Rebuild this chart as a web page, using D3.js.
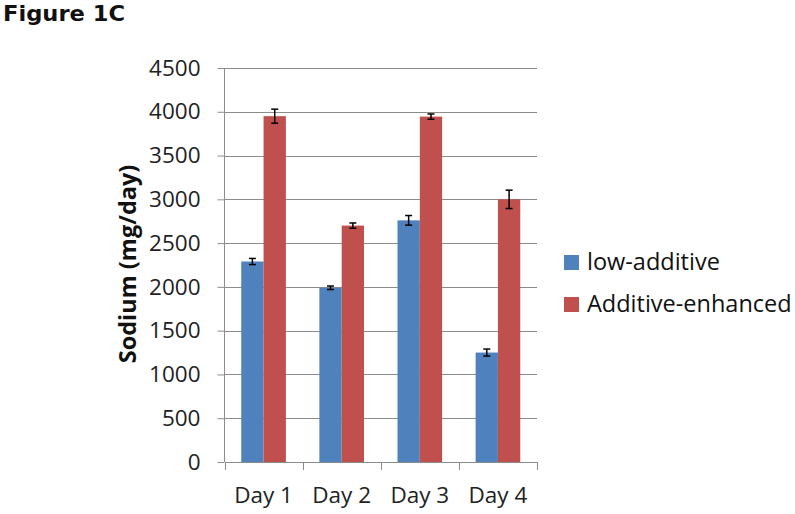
<!DOCTYPE html>
<html><head><meta charset="utf-8">
<script src="https://cdn.jsdelivr.net/npm/d3@7"></script>
<style>body{margin:0;background:#fff}svg{display:block}</style>
</head><body>
<svg id="c" width="795" height="514"></svg>
<script>
const categories = ["Day 1","Day 2","Day 3","Day 4"];
const seriesNames = ["low-additive","Additive-enhanced"];
const lowAdditive = [2290, 1990, 2760, 1250];
const lowAdditiveErr = [35, 20, 55, 40];
const additiveEnhanced = [3950, 2700, 3945, 3000];
const additiveEnhancedErr = [80, 30, 30, 105];
const yTicks = [0,500,1000,1500,2000,2500,3000,3500,4000,4500];
const colors = ["#4F81BD","#C0504D"];

const svg = d3.select("#c");
const m = {left:224.5, right:537, top:68, bottom:462};
const x = d3.scaleBand().domain(categories).range([m.left,m.right]).padding(0);
const y = d3.scaleLinear().domain([0,4500]).range([m.bottom,m.top]);
const grid = "#8c8c8c";
const font = "'Open Sans', sans-serif";

svg.append("text").attr("x",3).attr("y",21).text("Figure 1C")
  .attr("font-family","'DejaVu Sans', sans-serif").attr("font-weight","bold").attr("font-size",22).attr("fill","#111")
  .attr("textLength",122).attr("lengthAdjust","spacingAndGlyphs");

// gridlines
svg.append("g").selectAll("line").data(yTicks.filter(d=>d>0)).join("line")
  .attr("x1",m.left).attr("x2",m.right).attr("y1",d=>Math.round(y(d))+0.5).attr("y2",d=>Math.round(y(d))+0.5)
  .attr("stroke",grid).attr("stroke-width",1);

// y axis
const ya = svg.append("g").attr("transform",`translate(${m.left},0)`)
  .call(d3.axisLeft(y).tickValues(yTicks).tickSize(7).tickPadding(17).tickFormat(d3.format("d")));
ya.select(".domain").attr("stroke",grid).attr("d",`M-0,${m.top}V${m.bottom}`);
ya.selectAll(".tick line").attr("stroke",grid);
ya.selectAll("text").attr("font-family",font).attr("font-size",22.5).attr("fill","#222");

// bars
const inner = d3.scaleBand().domain([0,1]).range([0,x.bandwidth()]).paddingInner(0).paddingOuter(0.75);
const series = [lowAdditive, additiveEnhanced];
const errs = [lowAdditiveErr, additiveEnhancedErr];
series.forEach((vals,si)=>{
  const g = svg.append("g");
  g.selectAll("rect").data(vals).join("rect")
    .attr("x",(d,i)=>x(categories[i])+inner(si)).attr("width",inner.bandwidth())
    .attr("y",d=>y(d)).attr("height",d=>y(0)-y(d)).attr("fill",colors[si]);
});

// x axis
const xa = svg.append("g").attr("transform",`translate(0,${m.bottom})`)
  .call(d3.axisBottom(x).tickSize(0).tickPadding(25));
xa.select(".domain").attr("stroke",grid);
xa.selectAll("text").attr("font-family",font).attr("font-size",22.5).attr("fill","#222");
const bticks = [m.left, ...categories.map(c=>x(c)+x.bandwidth())];
svg.append("g").selectAll("line").data(bticks).join("line")
  .attr("x1",d=>Math.round(d)+0.5).attr("x2",d=>Math.round(d)+0.5).attr("y1",m.bottom).attr("y2",m.bottom+8)
  .attr("stroke",grid);

// error bars
series.forEach((vals,si)=>{
  const g = svg.append("g").attr("stroke","#000").attr("stroke-width",1.5);
  vals.forEach((v,i)=>{
    const cx = x(categories[i])+inner(si)+inner.bandwidth()/2;
    const e = errs[si][i];
    g.append("line").attr("x1",cx).attr("x2",cx).attr("y1",y(v+e)).attr("y2",y(v-e));
    g.append("line").attr("x1",cx-3.5).attr("x2",cx+3.5).attr("y1",y(v+e)).attr("y2",y(v+e));
    g.append("line").attr("x1",cx-3.5).attr("x2",cx+3.5).attr("y1",y(v-e)).attr("y2",y(v-e));
  });
});

// y title
svg.append("text").attr("transform","translate(136,264) rotate(-90)").attr("text-anchor","middle")
  .attr("font-family",font).attr("font-weight","bold").attr("font-size",23.5).attr("fill","#111")
  .text("Sodium (mg/day)");

// legend
const lg = svg.append("g");
seriesNames.forEach((n,i)=>{
  const base = 270 + i*42;
  lg.append("rect").attr("x",564).attr("y",base-15).attr("width",15).attr("height",15).attr("fill",colors[i]);
  lg.append("text").attr("x",587).attr("y",base).text(n)
    .attr("font-family",font).attr("font-size",23.5).attr("fill","#111");
});
</script>
</body></html>
